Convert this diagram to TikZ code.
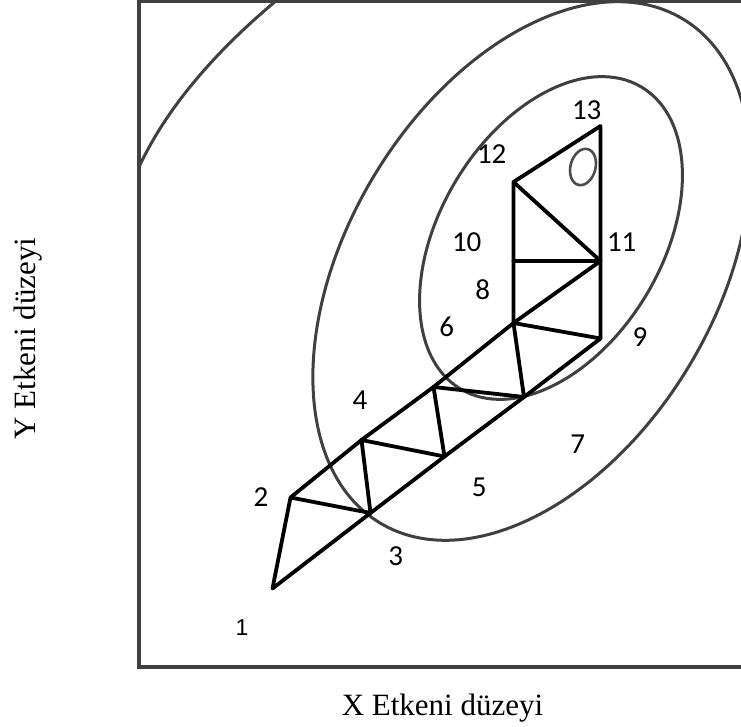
\documentclass[tikz,border=0pt]{standalone}
\usepackage{fontspec}
\setmainfont{Liberation Serif}
\newfontfamily\numfont{Carlito}
\newfontfamily\onefont{Liberation Sans}
\begin{document}
\begin{tikzpicture}[x=1pt,y=-1pt,
  contour/.style={draw=black!75, line width=3pt},
  frame/.style={draw=black!75, line width=3.2pt},
  simplex/.style={draw=black, line width=3.8pt, line join=round, line cap=round},
  num/.style={font=\numfont\fontsize{29}{29}\selectfont, inner sep=0pt},
  axislabel/.style={font=\fontsize{31}{31}\selectfont, inner sep=0pt, anchor=base}]
\useasboundingbox (0,0) rectangle (741,727);
\begin{scope}
\clip (0,0) rectangle (741,727);
% contours
\begin{scope}
\clip (139,1.5) rectangle (745,667);
\draw[contour, shift={(551,238)}, rotate=59] (0,0) ellipse [x radius=176pt, y radius=111pt];
\draw[contour, shift={(531.5,271)}, rotate=59] (0,0) ellipse [x radius=294pt, y radius=184pt];
\draw[contour] (277,0) .. controls (222,46) and (169.5,101.8) .. (139,167);
\end{scope}
\draw[draw=black!70, line width=2.6pt, shift={(583,167)}, rotate=-15] (0,0) ellipse [x radius=12.5pt, y radius=18.5pt];
% simplex vertices
\coordinate (p1) at (272.5,588.5);
\coordinate (p2) at (290.5,497.5);
\coordinate (p3) at (370.5,513);
\coordinate (p4) at (361.5,440);
\coordinate (p5) at (444.5,456.5);
\coordinate (p6) at (433.5,387);
\coordinate (p7) at (524,397);
\coordinate (p8) at (513.5,323);
\coordinate (p9) at (600.5,338.5);
\coordinate (p10) at (513.5,261);
\coordinate (p11) at (600.5,261);
\coordinate (p12) at (513.5,182);
\coordinate (p13) at (600.5,126);
\draw[simplex] (p1) -- (p2) -- (p3) -- (p4) -- (p5) -- (p6) -- (p7) -- (p8) -- (p9);
\draw[simplex] (p1) -- (p3) -- (p5) -- (p7) -- (p9);
\draw[simplex] (p2) -- (p4) -- (p6) -- (p8);
\draw[simplex] (p9) -- (p11) -- (p13) -- (p12) -- (p10) -- (p8);
\draw[simplex] (p8) -- (p11);
\draw[simplex] (p10) -- (p11);
\draw[simplex] (p12) -- (p11);
% frame
\draw[frame] (139,1.5) rectangle (760,667);
% labels
\node[inner sep=0pt, font=\onefont\fontsize{23}{23}\selectfont] (l1) at (242,628) {1};
\node[num] (l2) at (261,497) {2};
\node[num] (l3) at (395.7,556) {3};
\node[num] (l4) at (360,400) {4};
\node[num] (l5) at (479.3,487) {5};
\node[num] (l6) at (446.7,327.3) {6};
\node[num] (l7) at (577.7,444) {7};
\node[num] (l8) at (482.7,289.3) {8};
\node[num] (l9) at (640,336.7) {9};
\node[num] (l10) at (466.7,241.7) {10};
\node[num] (l11) at (621.7,241.7) {11};
\node[num] (l12) at (491.7,154) {12};
\node[num] (l13) at (586.7,110.5) {13};
\node[axislabel] (xl) at (442.5,715) {X Etkeni düzeyi};
\node[axislabel, rotate=90] (yl) at (35,338.5) {Y Etkeni düzeyi};
\end{scope}
\end{tikzpicture}
\end{document}
